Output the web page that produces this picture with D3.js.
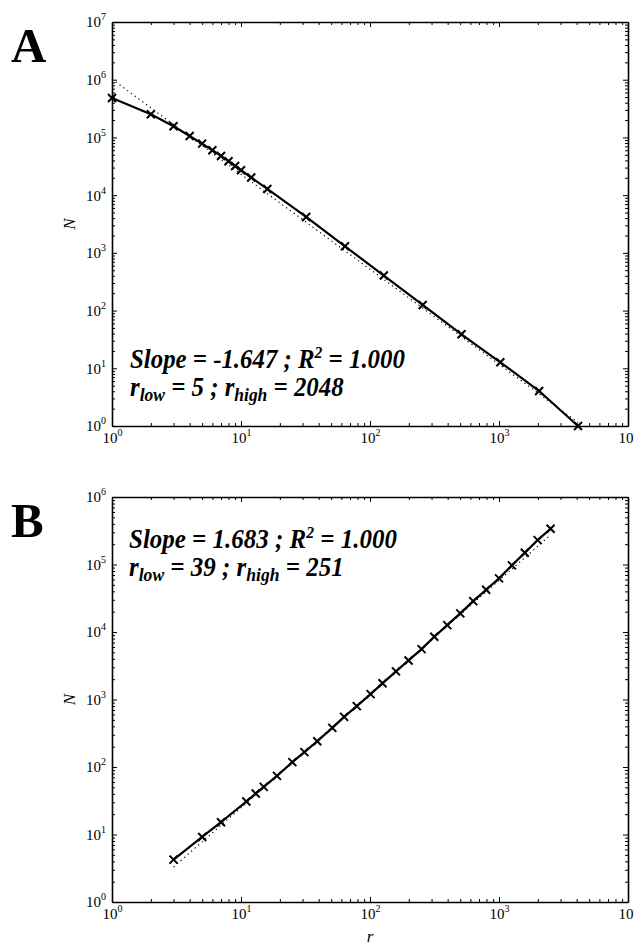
<!DOCTYPE html>
<html>
<head>
<meta charset="utf-8">
<script src="https://cdn.jsdelivr.net/npm/d3@7"></script>
<style>
  body { margin: 0; background: #fff; }
  svg { display: block; }
</style>
</head>
<body>
<script>
// Data

// Panel A: N against r, falling
const rA = [1, 2, 3, 4, 5, 6, 7, 8, 9, 10, 12, 16, 32, 64, 128, 256, 512, 1024, 2048, 4096]
const nA = [483000, 252000, 156000, 106000, 78000, 60000, 47800, 38700, 32000, 27000,
  20200, 12800, 4190, 1300, 404, 125, 38.8, 12.7, 4.04, 1]
// dotted fit line, end points
const fitRA = [1, 4096]
const fitNA = [1.02e6, 1.15]

// Panel B: N against r, rising
const rB = [3, 5, 7, 11, 13, 15, 19, 25, 31, 39, 51, 63, 79, 101, 125, 159, 199, 251,
  315, 397, 501, 631, 795, 1001, 1259, 1585, 1995, 2511]
const nB = [4.25, 9.2, 15.2, 30.8, 40.5, 50.7, 73.8, 118, 166, 241, 380, 553, 797, 1202,
  1737, 2607, 3793, 5580, 8490, 12650, 18880, 28700, 42300, 62300, 97100, 149000, 230000, 339000]
const fitRB = [3, 2511]
const fitNB = [3.3, 2.74e5]

// Tick labels (decades)
const xDecades = [1e0, 1e1, 1e2, 1e3, 1e4]
const yDecadesA = [1e0, 1e1, 1e2, 1e3, 1e4, 1e5, 1e6, 1e7]
const yDecadesB = [1e0, 1e1, 1e2, 1e3, 1e4, 1e5, 1e6]

// Annotations
const panelLetters = ["A", "B"]
const slopes = ["-1.647", "1.683"]
const rSquared = ["1.000", "1.000"]
const rLows = [5, 39]
const rHighs = [2048, 251]

// Dimensions
const width = 634
const height = 945
const left = 112
const right = 628
const font = "'Liberation Serif', 'Times New Roman', serif"

const svg = d3.select("body")
  .append("svg")
  .attr("width", width)
  .attr("height", height)

svg.append("rect")
  .attr("width", width)
  .attr("height", height)
  .style("fill", "#fff")

// minor ticks 2..9 inside each decade
const minorTicks = decades => {
  const out = []
  decades.slice(0, -1).forEach(d => {
    for (let k = 2; k <= 9; k++) out.push(d * k)
  })
  return out
}

const drawPanel = (opts) => {
  const { top, bottom, yDecades, r, n, fitR, fitN, idx, note, xLabel } = opts

  const x = d3.scaleLog()
    .domain([xDecades[0], xDecades.at(-1)])
    .range([left, right])

  const y = d3.scaleLog()
    .domain([yDecades[0], yDecades.at(-1)])
    .range([bottom, top])

  const g = svg.append("g")

  // Axes: ticks point inward on all four sides
  const sides = [
    { axis: d3.axisBottom(x), at: `translate(0,${bottom})`, major: xDecades, label: true },
    { axis: d3.axisTop(x), at: `translate(0,${top})`, major: xDecades, label: false },
    { axis: d3.axisLeft(y), at: `translate(${left},0)`, major: yDecades, label: true },
    { axis: d3.axisRight(y), at: `translate(${right},0)`, major: yDecades, label: false },
  ]

  sides.forEach(s => {
    // minor ticks
    g.append("g")
      .attr("transform", s.at)
      .call(s.axis.tickValues(minorTicks(s.major)).tickSize(-3).tickSizeOuter(0).tickFormat(""))
      .call(a => a.select(".domain").remove())
      .call(a => a.selectAll("line").attr("stroke-width", 1))

    // major ticks
    const ax = g.append("g")
      .attr("transform", s.at)
      .call(s.axis.tickValues(s.major).tickSize(-5).tickSizeOuter(0).tickPadding(6).tickFormat(""))
      .attr("font-family", font)
      .attr("font-size", 15)

    ax.select(".domain").attr("stroke-width", 1.6)
    ax.selectAll("line").attr("stroke-width", 1)

    if (s.label) {
      const texts = ax.selectAll(".tick text")
        .attr("fill", "#000")
        .text("10")
      texts.append("tspan")
        .attr("font-size", 10)
        .attr("dy", -7)
        .text(d => Math.round(Math.log10(d)))
      if (s.major === xDecades) {
        texts.attr("y", 17).attr("dy", null)
      } else {
        texts.attr("dy", "0.33em")
      }
    } else {
      ax.selectAll(".tick text").remove()
    }
  })

  // Fit line (dotted)
  g.append("path")
    .datum(d3.zip(fitR, fitN))
    .attr("d", d3.line().x(d => x(d[0])).y(d => y(d[1])))
    .attr("fill", "none")
    .attr("stroke", "#000")
    .attr("stroke-width", 1.2)
    .attr("stroke-dasharray", "1.2,3.5")

  // Data line
  const pts = d3.zip(r, n)
  g.append("path")
    .datum(pts)
    .attr("d", d3.line().x(d => x(d[0])).y(d => y(d[1])))
    .attr("fill", "none")
    .attr("stroke", "#000")
    .attr("stroke-width", 2.2)

  // x markers
  g.append("g")
    .selectAll("path")
    .data(pts)
    .join("path")
    .attr("transform", d => `translate(${x(d[0])},${y(d[1])})`)
    .attr("d", "M-4,-4L4,4M-4,4L4,-4")
    .attr("stroke", "#000")
    .attr("stroke-width", 2)

  // Y label
  g.append("text")
    .attr("transform", `translate(75,${(top + bottom) / 2}) rotate(-90)`)
    .attr("text-anchor", "middle")
    .attr("font-family", font)
    .attr("font-style", "italic")
    .attr("font-size", 17)
    .text("N")

  if (xLabel) {
    g.append("text")
      .attr("x", (left + right) / 2)
      .attr("y", 942)
      .attr("text-anchor", "middle")
      .attr("font-family", font)
      .attr("font-style", "italic")
      .attr("font-size", 17)
      .text("r")
  }

  // Panel letter
  g.append("text")
    .attr("x", 11)
    .attr("y", top + 40)
    .attr("font-family", font)
    .attr("font-weight", "bold")
    .attr("font-size", 49)
    .text(panelLetters[idx])

  // Fit annotation, squeezed horizontally like the original
  const box = g.append("g").attr("transform", `translate(${note.x},${note.y})`)
  const inner = box.append("g")
    .attr("font-family", font)
    .attr("font-weight", "bold")
    .attr("font-style", "italic")
    .attr("font-size", 27)

  const line1 = inner.append("text")
  line1.append("tspan").text(`Slope = ${slopes[idx]} ; R`)
  line1.append("tspan").attr("font-size", 17).attr("dy", -10).text("2")
  line1.append("tspan").attr("dy", 10).text(` = ${rSquared[idx]}`)

  const line2 = inner.append("text").attr("y", 28.5)
  line2.append("tspan").text("r")
  line2.append("tspan").attr("font-size", 19).attr("dy", 5).text("low")
  line2.append("tspan").attr("dy", -5).text(` = ${rLows[idx]} ; r`)
  line2.append("tspan").attr("font-size", 19).attr("dy", 5).text("high")
  line2.append("tspan").attr("dy", -5).text(` = ${rHighs[idx]}`)

  const w = line1.node().getComputedTextLength()
  inner.attr("transform", `scale(${note.w / w},1)`)
}

drawPanel({
  top: 22, bottom: 426, yDecades: yDecadesA,
  r: rA, n: nA, fitR: fitRA, fitN: fitNA, idx: 0,
  note: { x: 130, y: 368, w: 275 }, xLabel: false,
})

drawPanel({
  top: 497, bottom: 902, yDecades: yDecadesB,
  r: rB, n: nB, fitR: fitRB, fitN: fitNB, idx: 1,
  note: { x: 129, y: 548, w: 268 }, xLabel: true,
})
</script>
</body>
</html>
